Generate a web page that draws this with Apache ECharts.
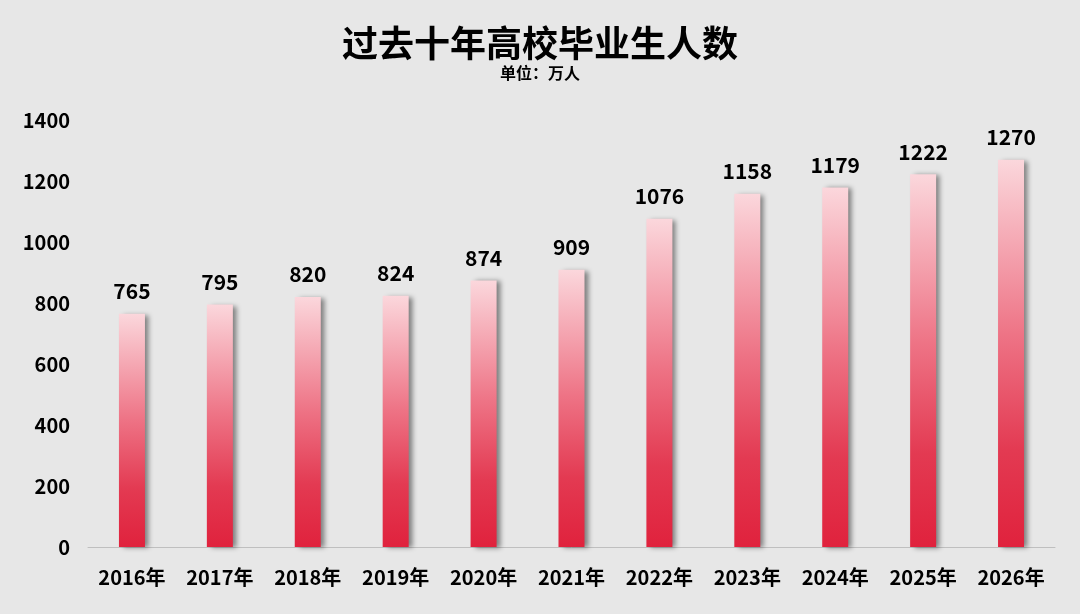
<!DOCTYPE html>
<html><head><meta charset="utf-8">
<script src="https://cdn.jsdelivr.net/npm/echarts@6/dist/echarts.min.js"></script>
<style>html,body{margin:0;padding:0;background:#e7e7e7;}#main{width:1080px;height:614px;}</style>
</head><body><div id="main"></div>
<script>
var years = ['2016年','2017年','2018年','2019年','2020年','2021年','2022年','2023年','2024年','2025年','2026年'];
var graduates = [765, 795, 820, 824, 874, 909, 1076, 1158, 1179, 1222, 1270];

var myChart = echarts.init(document.getElementById('main'));
var font = '"Noto Sans CJK SC", sans-serif';
option = {
    backgroundColor: '#e7e7e7',
    title: {
        text: '过去十年高校毕业生人数',
        subtext: '单位：万人',
        left: 'center',
        top: 20,
        itemGap: 4,
        textStyle: {fontFamily: font, fontSize: 36, fontWeight: 'bold', color: '#000'},
        subtextStyle: {fontFamily: font, fontSize: 16, fontWeight: 'bold', color: '#000'}
    },
    grid: {left: 88, right: 25, top: 120, bottom: 67},
    xAxis: {
        type: 'category',
        data: years,
        axisLine: {lineStyle: {color: '#bfbfbf'}},
        axisTick: {show: false},
        axisLabel: {color: '#000', fontFamily: font, fontSize: 20, fontWeight: 'bold', margin: 20}
    },
    yAxis: {
        type: 'value',
        min: 0, max: 1400, interval: 200,
        splitLine: {show: false},
        axisLabel: {color: '#000', fontFamily: font, fontSize: 20, fontWeight: 'bold', margin: 18,
            formatter: function (v) { return String(v); }}
    },
    series: [{
        type: 'bar',
        data: graduates,
        barWidth: 26,
        itemStyle: {
            color: new echarts.graphic.LinearGradient(0, 0, 0, 1, [
                {offset: 0, color: '#fbd7dc'},
                {offset: 0.45, color: '#ee7486'},
                {offset: 0.75, color: '#e33a52'},
                {offset: 1, color: '#e0223d'}
            ]),
            shadowColor: 'rgba(0,0,0,0.45)',
            shadowBlur: 5,
            shadowOffsetX: 4,
            shadowOffsetY: 1
        },
        label: {
            show: true, position: 'top', distance: 12,
            color: '#000', fontFamily: font, fontSize: 21, fontWeight: 'bold'
        }
    }]
};
myChart.setOption(option);
</script></body></html>
